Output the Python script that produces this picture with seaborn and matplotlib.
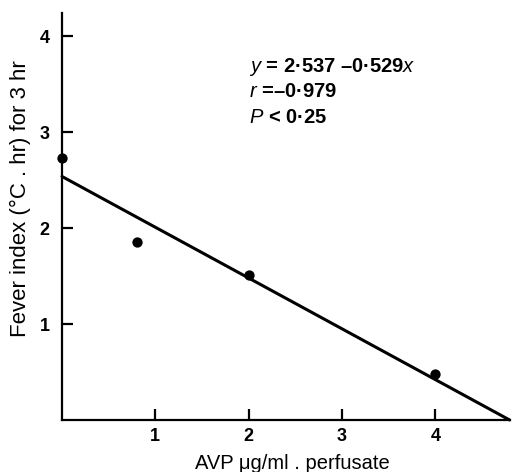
import matplotlib
matplotlib.use("Agg")
import matplotlib.pyplot as plt
import seaborn as sns
import pandas as pd

# Data
avp_dose = [0.0, 0.8, 2.0, 4.0]
fever_index = [2.73, 1.85, 1.51, 0.48]
fit_intercept = 2.537
fit_slope = -0.529
x_ticks = [1, 2, 3, 4]
y_ticks = [1, 2, 3, 4]
eq_lines = [r"$\mathit{y}$ = 2·537 –0·529$\mathit{x}$",
            r"$\mathit{r}$ =–0·979",
            r"$\mathit{P}$ < 0·25"]

sns.set_style("ticks")
plt.rcParams['font.family'] = ['Liberation Sans', 'DejaVu Sans']
plt.rcParams['mathtext.fontset'] = 'custom'
plt.rcParams['mathtext.it'] = 'Liberation Sans:italic'
plt.rcParams['mathtext.rm'] = 'Liberation Sans'
for key in ['text.color', 'axes.labelcolor', 'xtick.color', 'ytick.color',
            'axes.edgecolor']:
    plt.rcParams[key] = 'black'

fig = plt.figure(figsize=(5.26, 4.72), dpi=100)
ax = fig.add_axes([62/526, 52/472, 448/526, 407/472])

df = pd.DataFrame({"dose": avp_dose, "fever": fever_index})
x_end = -fit_intercept / fit_slope
line_df = pd.DataFrame({"dose": [0.0, x_end],
                        "fever": [fit_intercept, fit_intercept + fit_slope * x_end]})

sns.lineplot(data=line_df, x="dose", y="fever", ax=ax, color="black",
             linewidth=2.2, clip_on=False)
sns.scatterplot(data=df, x="dose", y="fever", ax=ax, color="black", s=55,
                edgecolor="black", linewidth=0, clip_on=False, zorder=5)

ax.set_xlim(0, 4.8)
ax.set_ylim(0, 4.24)
ax.set_xticks(x_ticks)
ax.set_yticks(y_ticks)
ax.set_xticklabels([str(t) for t in x_ticks], fontsize=13, fontweight='bold')
ax.set_yticklabels([str(t) for t in y_ticks], fontsize=13, fontweight='bold')
ax.tick_params(direction='in', length=8, width=1.6, pad=6, colors='black')
ax.tick_params(axis='y', pad=9)

for side in ['top', 'right']:
    ax.spines[side].set_visible(False)
for side in ['left', 'bottom']:
    ax.spines[side].set_linewidth(1.6)
    ax.spines[side].set_color('black')

ax.set_xlabel("AVP μg/ml . perfusate", fontsize=14.5, color='black')
ax.set_ylabel("Fever index (°C . hr) for 3 hr", fontsize=16, color='black')
ax.xaxis.set_label_coords((292 - 62) / 448, -(454 - 420) / 407)
ax.yaxis.set_label_coords(-(62 - 31) / 448, (420 - 199) / 407)

ys = [0.855, 0.794, 0.730]
for t, yy in zip(eq_lines, ys):
    ax.text(0.417, yy, t, transform=ax.transAxes, fontsize=14.5,
            fontweight='bold', ha='left', va='baseline', color='black')

fig.savefig("out.png", dpi=100)
